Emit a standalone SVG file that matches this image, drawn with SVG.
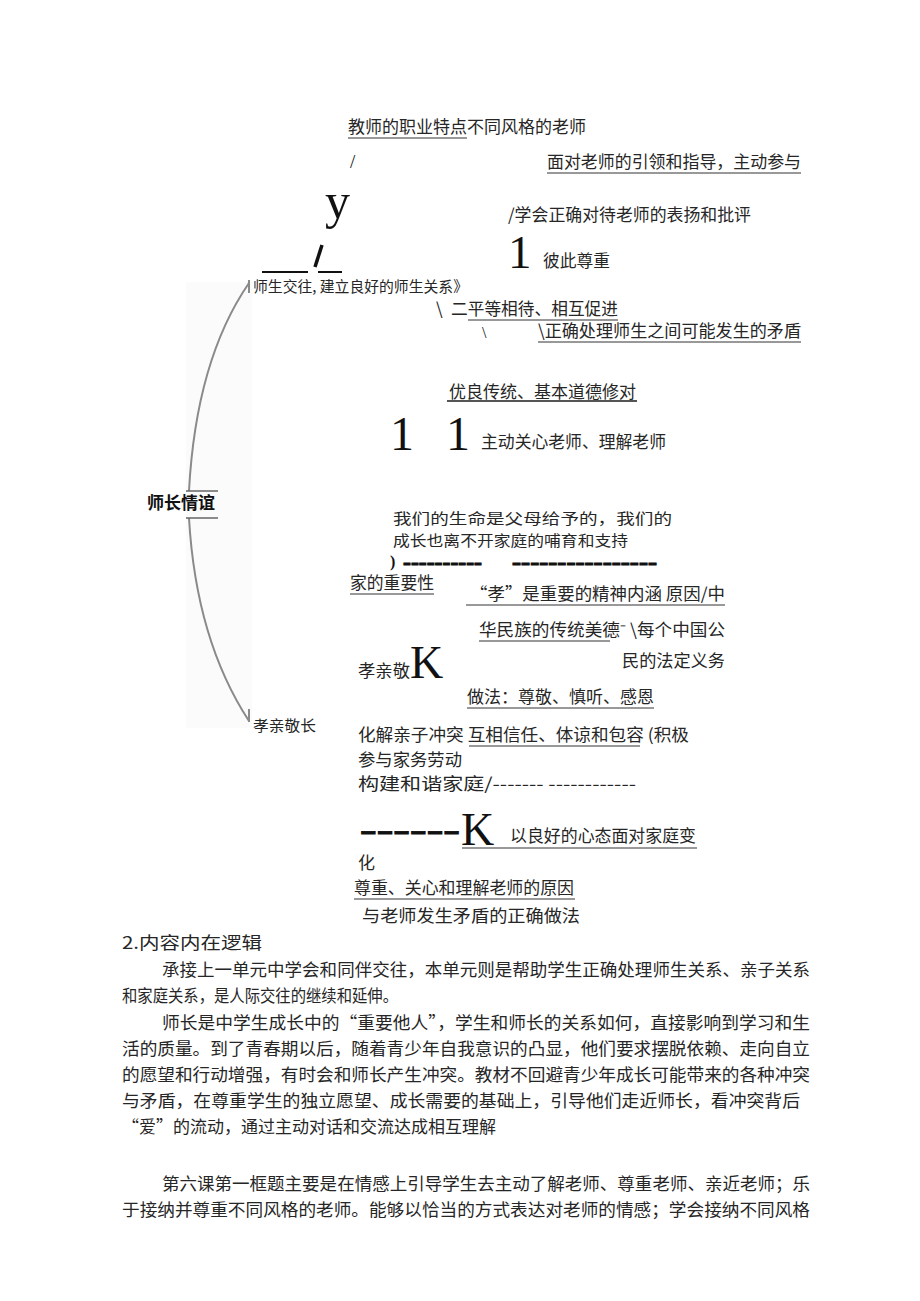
<svg xmlns="http://www.w3.org/2000/svg" width="920" height="1301" viewBox="0 0 920 1301">
<style>
.t{font-family:"Noto Sans CJK SC","Liberation Sans",sans-serif;font-size:17px;fill:#262626}
.s{font-size:15px}
.m{font-size:15px}
.b{font-weight:bold;fill:#111}
.big{font-family:"Liberation Serif",serif;fill:#111}
.ul{stroke:#333;stroke-width:1}
.br{fill:none;stroke:#8a8a8a;stroke-width:2}
.dash{font-family:"Liberation Sans",sans-serif;font-weight:bold;fill:#111;stroke:#111;stroke-width:0.8}
</style>
<rect width="920" height="1301" fill="#fff"/>
<rect x="186" y="282" width="66" height="446" fill="#fbfbfb"/>
<g id="connectors">
<path class="br" d="M249,283 Q196,360 189,491"/>
<path class="br" d="M189,518 Q196,640 249,721"/>
<path class="br" d="M249,280 L249,293"/>
<path class="br" d="M249,709 L249,722"/>
<line x1="186" y1="491" x2="218" y2="491" stroke="#666" stroke-width="1.5"/>
<line x1="186" y1="518" x2="218" y2="518" stroke="#666" stroke-width="1.5"/>
<line x1="262" y1="272" x2="308" y2="272" stroke="#111" stroke-width="2"/>
<line x1="318" y1="272" x2="342" y2="272" stroke="#111" stroke-width="2"/>
<line x1="322" y1="245" x2="315" y2="267" stroke="#111" stroke-width="3.5"/>
</g>
<g id="n-top">
<text class="t" x="348" y="133" textLength="238" lengthAdjust="spacingAndGlyphs">教师的职业特点不同风格的老师</text>
<line class="ul" x1="348" y1="138" x2="467" y2="138"/>
<text class="big" x="350" y="168" font-size="19">/</text>
<text class="t" x="547" y="168" textLength="254" lengthAdjust="spacingAndGlyphs">面对老师的引领和指导，主动参与</text>
<line class="ul" x1="547" y1="173" x2="801" y2="173"/>
<text class="big" x="325" y="218" font-size="50">y</text>
<text class="t" x="508" y="221" textLength="243" lengthAdjust="spacingAndGlyphs">/学会正确对待老师的表扬和批评</text>
<text class="big" x="508" y="268" font-size="47">1</text>
<text class="t" x="543" y="267" textLength="67" lengthAdjust="spacingAndGlyphs">彼此尊重</text>
</g>
<g id="n-teacher">
<text class="t s" x="253" y="292" textLength="215" lengthAdjust="spacingAndGlyphs">师生交往, 建立良好的师生关系》</text>
<text class="t" x="436" y="315">\</text>
<text class="t" x="451" y="315" textLength="167" lengthAdjust="spacingAndGlyphs">二平等相待、相互促进</text>
<line class="ul" x1="468" y1="320" x2="618" y2="320"/>
<text class="big" x="482" y="338" font-size="16">\</text>
<text class="t" x="538" y="337" textLength="263" lengthAdjust="spacingAndGlyphs">\正确处理师生之间可能发生的矛盾</text>
<line class="ul" x1="538" y1="342" x2="801" y2="342"/>
</g>
<g id="n-care">
<text class="t" x="449" y="398" textLength="187" lengthAdjust="spacingAndGlyphs">优良传统、基本道德修对</text>
<line x1="447" y1="401" x2="637" y2="401" stroke="#555" stroke-width="2"/>
<text class="big" x="390" y="450" font-size="48">1</text>
<text class="big" x="446" y="450" font-size="48">1</text>
<text class="t" x="481" y="448" textLength="185" lengthAdjust="spacingAndGlyphs">主动关心老师、理解老师</text>
</g>
<g id="n-root">
<text class="t b" x="147" y="509" textLength="68" lengthAdjust="spacingAndGlyphs">师长情谊</text>
</g>
<g id="n-family">
<text class="t m" x="393" y="524" textLength="279" lengthAdjust="spacingAndGlyphs">我们的生命是父母给予的，我们的</text>
<text class="t m" x="393" y="546" textLength="235" lengthAdjust="spacingAndGlyphs">成长也离不开家庭的哺育和支持</text>
<text class="big" x="390" y="567" font-size="16" font-weight="bold">)</text>
<text class="dash" x="403" y="568" font-size="16" textLength="79" lengthAdjust="spacingAndGlyphs">----------</text>
<text class="dash" x="512" y="568" font-size="16" textLength="145" lengthAdjust="spacingAndGlyphs">----------------</text>
<text class="t" x="350" y="589" textLength="84" lengthAdjust="spacingAndGlyphs">家的重要性</text>
<line class="ul" x1="350" y1="594" x2="434" y2="594"/>
<text class="t" x="470" y="600" textLength="255" lengthAdjust="spacingAndGlyphs">“孝”是重要的精神内涵 原因/中</text>
<line class="ul" x1="466" y1="605" x2="725" y2="605"/>
<text class="t" x="479" y="636" textLength="246" lengthAdjust="spacingAndGlyphs">华民族的传统美德⁻ \每个中国公</text>
<line class="ul" x1="479" y1="641" x2="610" y2="641"/>
<text class="t" x="622" y="667" textLength="103" lengthAdjust="spacingAndGlyphs">民的法定义务</text>
<text class="t" x="358" y="677" textLength="52" lengthAdjust="spacingAndGlyphs">孝亲敬</text>
<text class="big" x="410" y="678" font-size="46">K</text>
<text class="t" x="467" y="703" textLength="187" lengthAdjust="spacingAndGlyphs">做法：尊敬、慎听、感恩</text>
<line class="ul" x1="467" y1="708" x2="654" y2="708"/>
</g>
<g id="n-filial">
<text class="t s" x="253" y="731" textLength="63" lengthAdjust="spacingAndGlyphs">孝亲敬长</text>
</g>
<g id="n-harmony">
<text class="t" x="358" y="741" textLength="331" lengthAdjust="spacingAndGlyphs">化解亲子冲突 互相信任、体谅和包容 (积极</text>
<line class="ul" x1="469" y1="746" x2="640" y2="746"/>
<text class="t" x="358" y="766" textLength="104" lengthAdjust="spacingAndGlyphs">参与家务劳动</text>
<text class="t" x="358" y="790" textLength="278" lengthAdjust="spacingAndGlyphs">构建和谐家庭/------- ------------</text>
<text class="dash" x="360" y="838" font-size="22" textLength="100" lengthAdjust="spacingAndGlyphs">------</text>
<text class="big" x="461" y="845" font-size="46">K</text>
<text class="t" x="510" y="842" textLength="186" lengthAdjust="spacingAndGlyphs">以良好的心态面对家庭变</text>
<line class="ul" x1="462" y1="848" x2="697" y2="848"/>
<text class="t" x="358" y="869" font-size="16">化</text>
<text class="t" x="354" y="894" textLength="220" lengthAdjust="spacingAndGlyphs">尊重、关心和理解老师的原因</text>
<line class="ul" x1="354" y1="899" x2="575" y2="899"/>
<text class="t" x="362" y="922" textLength="218" lengthAdjust="spacingAndGlyphs">与老师发生矛盾的正确做法</text>
</g>
<g id="body-text">
<text class="t" x="122" y="949" textLength="140" lengthAdjust="spacingAndGlyphs">2.内容内在逻辑</text>
<text class="t" x="162" y="976" textLength="648" lengthAdjust="spacingAndGlyphs">承接上一单元中学会和同伴交往，本单元则是帮助学生正确处理师生关系、亲子关系</text>
<text class="t" x="122" y="1002" textLength="276" lengthAdjust="spacingAndGlyphs">和家庭关系，是人际交往的继续和延伸。</text>
<text class="t" x="162" y="1029" textLength="648" lengthAdjust="spacingAndGlyphs">师长是中学生成长中的“重要他人”，学生和师长的关系如何，直接影响到学习和生</text>
<text class="t" x="122" y="1055" textLength="688" lengthAdjust="spacingAndGlyphs">活的质量。到了青春期以后，随着青少年自我意识的凸显，他们要求摆脱依赖、走向自立</text>
<text class="t" x="122" y="1081" textLength="688" lengthAdjust="spacingAndGlyphs">的愿望和行动增强，有时会和师长产生冲突。教材不回避青少年成长可能带来的各种冲突</text>
<text class="t" x="122" y="1107" textLength="678" lengthAdjust="spacingAndGlyphs">与矛盾，在尊重学生的独立愿望、成长需要的基础上，引导他们走近师长，看冲突背后</text>
<text class="t" x="122" y="1133" textLength="374" lengthAdjust="spacingAndGlyphs">“爱”的流动，通过主动对话和交流达成相互理解</text>
<text class="t" x="162" y="1190" textLength="648" lengthAdjust="spacingAndGlyphs">第六课第一框题主要是在情感上引导学生去主动了解老师、尊重老师、亲近老师；乐</text>
<text class="t" x="122" y="1216" textLength="688" lengthAdjust="spacingAndGlyphs">于接纳并尊重不同风格的老师。能够以恰当的方式表达对老师的情感；学会接纳不同风格</text>
</g>
</svg>
